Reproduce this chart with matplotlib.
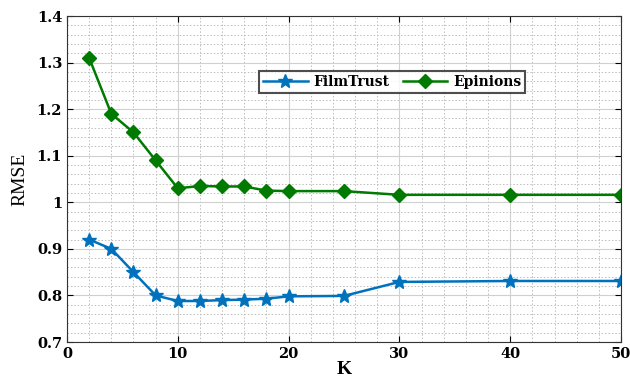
import matplotlib
matplotlib.use("Agg")
import matplotlib.pyplot as plt
from matplotlib.ticker import MultipleLocator

K = [2, 4, 6, 8, 10, 12, 14, 16, 18, 20, 25, 30, 40, 50]
filmtrust = [0.92, 0.90, 0.85, 0.80, 0.788, 0.788, 0.790, 0.791, 0.793, 0.798, 0.799, 0.829, 0.831, 0.831]
epinions = [1.31, 1.19, 1.15, 1.09, 1.03, 1.035, 1.034, 1.034, 1.025, 1.024, 1.024, 1.016, 1.016, 1.016]
xticks = [0, 10, 20, 30, 40, 50]
yticks = [0.7, 0.8, 0.9, 1.0, 1.1, 1.2, 1.3, 1.4]
ytick_labels = ["0.7", "0.8", "0.9", "1", "1.1", "1.2", "1.3", "1.4"]

fig = plt.figure(figsize=(6.3, 3.84), dpi=100)
ax = fig.add_axes([67/630, 1 - 342/384, (621-67)/630, (342-16)/384])

ax.plot(K, filmtrust, color="#0072BD", marker="*", markersize=10, linewidth=1.8, label="FilmTrust")
ax.plot(K, epinions, color="#007A00", marker="D", markersize=7, linewidth=1.8, label="Epinions")

ax.set_xlim(0, 50)
ax.set_ylim(0.7, 1.4)
ax.set_xticks(xticks)
ax.set_yticks(yticks)
ax.set_yticklabels(ytick_labels)
ax.xaxis.set_minor_locator(MultipleLocator(2))
ax.yaxis.set_minor_locator(MultipleLocator(0.02))
ax.grid(which="major", color="#d0d0d0", linewidth=0.8, linestyle="-")
ax.grid(which="minor", color="#bdbdbd", linewidth=0.7, linestyle=(0, (1.5, 2)))
ax.set_axisbelow(True)
ax.tick_params(which="major", direction="in", top=True, right=True, length=4, width=0.8)
ax.tick_params(which="minor", length=0)
for lbl in ax.get_xticklabels() + ax.get_yticklabels():
    lbl.set_fontfamily("DejaVu Serif")
    lbl.set_fontweight("bold")
    lbl.set_fontsize(10.5)
for s in ax.spines.values():
    s.set_color("#333333")
    s.set_linewidth(0.8)

ax.set_xlabel("K", fontfamily="Liberation Serif", fontweight="bold", fontsize=14, labelpad=0)
ax.set_ylabel("RMSE", fontfamily="Liberation Serif", fontsize=14, labelpad=6)

leg = ax.legend(loc="center", bbox_to_anchor=(0.587, 0.798), ncol=2, frameon=True, fancybox=False,
                prop={"family": "DejaVu Serif", "weight": "bold", "size": 10},
                handlelength=3.2, columnspacing=1.0, borderpad=0.3, handletextpad=0.4)
leg.get_frame().set_edgecolor("#222222")
leg.get_frame().set_linewidth(1.5)

fig.savefig("out.png", dpi=100, facecolor="white")
